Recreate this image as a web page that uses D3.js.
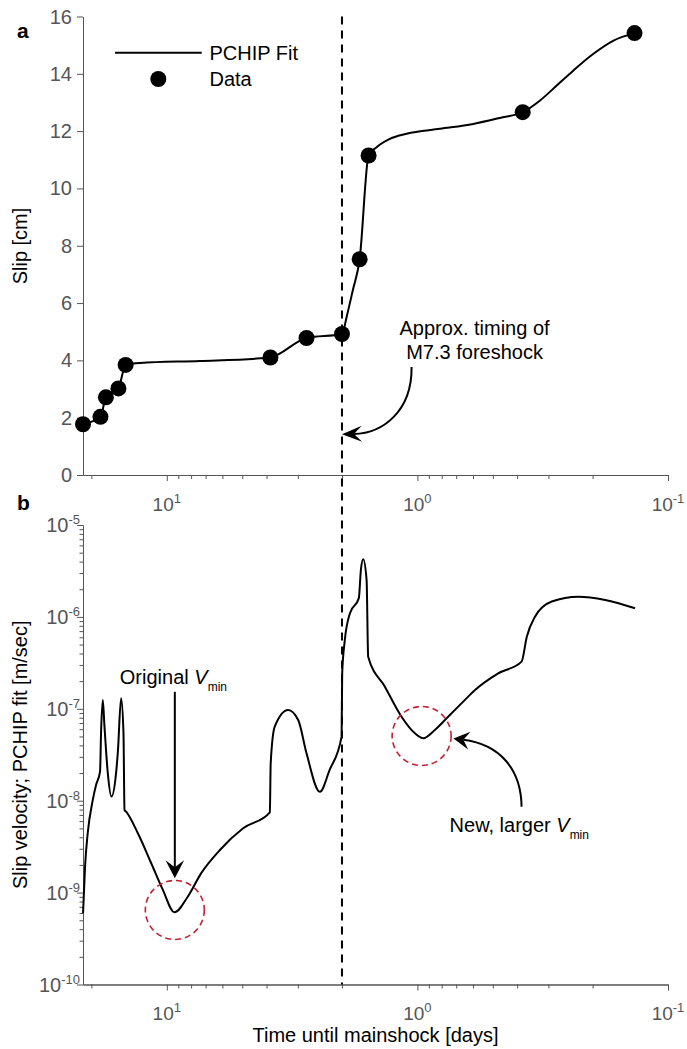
<!DOCTYPE html>
<html><head><meta charset="utf-8">
<script src="https://cdn.jsdelivr.net/npm/d3@7"></script>
<style>
body{margin:0;background:#fff}
svg{display:block}
text{font-family:"Liberation Sans",Arial,Helvetica,sans-serif}
</style>
</head><body>
<svg id="c" width="687" height="1049"></svg>
<script>
// ---------------- data ----------------
const dataTime = [21.6, 18.4, 17.5, 15.6, 14.6, 3.86, 2.77, 2.0, 1.70, 1.566, 0.380, 0.136];
const dataSlip = [1.77, 2.03, 2.71, 3.02, 3.84, 4.10, 4.78, 4.92, 7.53, 11.15, 12.66, 15.42];

const fitTime = [21.6, 18.4, 17.5, 15.6, 14.6, 12.8, 7.38, 4.25, 3.86, 2.77, 2.0, 1.91, 1.81, 1.70, 1.566,
                 1.455, 1.288, 1.104, 0.813, 0.599, 0.469, 0.380, 0.324, 0.278, 0.239, 0.199, 0.165, 0.136];
const fitSlip = [1.77, 2.03, 2.71, 3.02, 3.84, 3.91, 3.98, 4.07, 4.10, 4.78, 4.92, 5.57, 6.45, 7.53, 11.15,
                 11.44, 11.73, 11.91, 12.08, 12.25, 12.46, 12.66, 13.07, 13.59, 14.11, 14.69, 15.16, 15.42];

const velTime = [21.59, 21.2, 20.68, 19.74, 19.16, 18.47, 18.30, 18.01, 17.73, 17.20, 16.63, 15.94, 15.69,
                 15.22, 14.89, 14.75, 14.53, 13.06, 11.55, 10.37, 9.32, 8.25, 7.30, 6.14, 4.96, 3.88, 3.85,
                 3.71, 3.28, 2.99, 2.77, 2.45, 2.24, 2.007, 1.996, 1.948, 1.860, 1.713, 1.681, 1.646, 1.595,
                 1.572, 1.348, 1.157, 1.023, 0.948, 0.852, 0.754, 0.646, 0.589, 0.476, 0.384, 0.366, 0.340,
                 0.291, 0.228, 0.178, 0.1354];
const velValue = [5.95e-10, 1.91e-9, 4.45e-9, 1.02e-8, 1.48e-8, 2.07e-8, 5.46e-8, 1.25e-7, 6.39e-8, 2.00e-8,
                  1.11e-8, 2.00e-8, 3.30e-8, 1.30e-7, 5.46e-8, 7.93e-9, 7.59e-9, 4.45e-9, 2.10e-9, 1.07e-9,
                  6.11e-10, 9.02e-10, 1.62e-9, 2.91e-9, 5.01e-9, 7.48e-9, 2.55e-8, 6.39e-8, 9.70e-8, 7.55e-8,
                  3.28e-8, 1.25e-8, 2.16e-8, 4.98e-8, 2.43e-7, 5.61e-7, 1.09e-6, 1.60e-6, 3.24e-6, 4.24e-6,
                  2.52e-6, 3.69e-7, 1.74e-7, 8.20e-8, 5.41e-8, 4.78e-8, 5.88e-8, 8.20e-8, 1.25e-7, 1.60e-7,
                  2.43e-7, 3.26e-7, 6.09e-7, 1.00e-6, 1.47e-6, 1.66e-6, 1.53e-6, 1.24e-6];

const xMajor = [10, 1, 0.1];
const xMajorExp = ["1", "0", "-1"];
const xMinor = [20, 9, 8, 7, 6, 5, 4, 3, 2, 0.9, 0.8, 0.7, 0.6, 0.5, 0.4, 0.3, 0.2];
const slipTicks = [0, 2, 4, 6, 8, 10, 12, 14, 16];
const velMajor = [1e-10, 1e-9, 1e-8, 1e-7, 1e-6, 1e-5];
const velMajorExp = ["-10", "-9", "-8", "-7", "-6", "-5"];
const velMinor = [];
[1e-10, 1e-9, 1e-8, 1e-7, 1e-6].forEach(d => [2,3,4,5,6,7,8,9].forEach(k => velMinor.push(k * d)));

const foreshockTime = 2.0;
const vminOld = {t: 9.29, v: 6.47e-10};
const vminNew = {t: 0.962, v: 5.06e-8};
const arrowForeshock = {t0: 1.055, s0: 3.77, t1: 2.0, s1: 1.42};
const arrowOld = {t: 9.29, v0: 1.53e-7, v1: 1.43e-9};
const arrowNew = {t0: 0.384, v0: 8.6e-9, t1: 0.718, v1: 4.75e-8};

// ---------------- scales ----------------
const svg = d3.select('#c');
const AX = '#555';
const x = d3.scaleLog().domain([21.6, 0.1]).range([83, 668]);
const yA = d3.scaleLinear().domain([0, 16]).range([475, 16.5]);
const yB = d3.scaleLog().domain([1e-10, 1e-5]).range([984.5, 525]);

function styleAxis(g) {
  g.select('.domain').attr('stroke', AX).attr('stroke-width', 1);
  g.selectAll('.tick line').attr('stroke', AX).attr('stroke-width', 1);
}
function supLabel(sel, exp) {
  sel.append('tspan').text('10');
  sel.append('tspan').attr('font-size', 13).attr('dy', -8).text(exp);
}

// x axes
[475, 984.5].forEach(y0 => {
  const gMin = svg.append('g').attr('transform', `translate(0,${y0})`)
    .call(d3.axisBottom(x).tickValues(xMinor).tickSize(4).tickSizeOuter(0).tickFormat(''));
  styleAxis(gMin);
  const gMaj = svg.append('g').attr('transform', `translate(0,${y0})`)
    .call(d3.axisBottom(x).tickValues(xMajor).tickSize(6).tickSizeOuter(0).tickFormat(''));
  styleAxis(gMaj);
  xMajor.forEach((v, i) => {
    const t = svg.append('text').attr('x', x(v)).attr('y', y0 + 35.5)
      .attr('text-anchor', 'middle').attr('font-size', 19).attr('fill', AX);
    supLabel(t, xMajorExp[i]);
  });
});

// y axis panel a
const gA = svg.append('g').attr('transform', 'translate(83,0)')
  .call(d3.axisLeft(yA).tickValues(slipTicks).tickSize(6).tickSizeOuter(0).tickFormat(''));
styleAxis(gA);
slipTicks.forEach(v => {
  svg.append('text').attr('x', 72).attr('y', yA(v) + 7).attr('text-anchor', 'end')
    .attr('font-size', 20).attr('fill', AX).text(v);
});

// y axis panel b
const gBm = svg.append('g').attr('transform', 'translate(83,0)')
  .call(d3.axisLeft(yB).tickValues(velMinor).tickSize(3.5).tickSizeOuter(0).tickFormat(''));
styleAxis(gBm);
const gB = svg.append('g').attr('transform', 'translate(83,0)')
  .call(d3.axisLeft(yB).tickValues(velMajor).tickSize(6).tickSizeOuter(0).tickFormat(''));
styleAxis(gB);
velMajor.forEach((v, i) => {
  const t = svg.append('text').attr('x', 80).attr('y', yB(v) + 7).attr('text-anchor', 'end')
    .attr('font-size', 20).attr('fill', AX);
  supLabel(t, velMajorExp[i]);
});

// titles
svg.append('text').attr('transform', 'translate(27,246) rotate(-90)').attr('text-anchor', 'middle')
  .attr('font-size', 20).attr('fill', '#000').text('Slip [cm]');
svg.append('text').attr('transform', 'translate(27,754.75) rotate(-90)').attr('text-anchor', 'middle')
  .attr('font-size', 20).attr('fill', '#000').text('Slip velocity; PCHIP fit [m/sec]');
svg.append('text').attr('x', 375.5).attr('y', 1042).attr('text-anchor', 'middle')
  .attr('font-size', 20).attr('fill', '#000').text('Time until mainshock [days]');
svg.append('text').attr('x', 17).attr('y', 38).attr('font-size', 21).attr('font-weight', 'bold').text('a');
svg.append('text').attr('x', 17).attr('y', 510).attr('font-size', 21).attr('font-weight', 'bold').text('b');

// foreshock dashed line
svg.append('line').attr('x1', x(foreshockTime)).attr('x2', x(foreshockTime))
  .attr('y1', yA(16)).attr('y2', yB(1e-10))
  .attr('stroke', '#000').attr('stroke-width', 2).attr('stroke-dasharray', '8,6');

// panel a: fit + data
const fitPts = fitTime.map((t, i) => [t, fitSlip[i]]);
svg.append('path').datum(fitPts)
  .attr('d', d3.line().x(d => x(d[0])).y(d => yA(d[1])).curve(d3.curveMonotoneX))
  .attr('fill', 'none').attr('stroke', '#000').attr('stroke-width', 2);
svg.selectAll('circle.data').data(dataTime.map((t, i) => [t, dataSlip[i]])).enter()
  .append('circle').attr('class', 'data').attr('cx', d => x(d[0])).attr('cy', d => yA(d[1]))
  .attr('r', 8).attr('fill', '#000');

// legend
svg.append('line').attr('x1', 115).attr('x2', 201.7).attr('y1', 52.7).attr('y2', 52.7)
  .attr('stroke', '#000').attr('stroke-width', 2);
svg.append('text').attr('x', 209.5).attr('y', 60).attr('font-size', 20).text('PCHIP Fit');
svg.append('circle').attr('cx', 158.3).attr('cy', 79).attr('r', 8).attr('fill', '#000');
svg.append('text').attr('x', 209.5).attr('y', 86).attr('font-size', 20).text('Data');

// panel b: velocity
const velPts = velTime.map((t, i) => [t, velValue[i]]);
svg.append('path').datum(velPts)
  .attr('d', d3.line().x(d => x(d[0])).y(d => yB(d[1])).curve(d3.curveMonotoneX))
  .attr('fill', 'none').attr('stroke', '#000').attr('stroke-width', 2);

// red dashed circles
[vminOld, vminNew].forEach(c => {
  svg.append('circle').attr('cx', x(c.t)).attr('cy', yB(c.v)).attr('r', 29.5)
    .attr('fill', 'none').attr('stroke', '#c81e32').attr('stroke-width', 1.6)
    .attr('stroke-dasharray', '6,4');
});

// arrows
function head(tip, ang, len, half, notch) {
  const ca = Math.cos(ang), sa = Math.sin(ang);
  const pt = (u, v) => [tip[0] + u * ca - v * sa, tip[1] + u * sa + v * ca];
  const p = [pt(0, 0), pt(-len, -half), pt(-notch, 0), pt(-len, half)];
  svg.append('path').attr('d', 'M' + p.map(q => q.join(',')).join('L') + 'Z').attr('fill', '#000');
  return pt(-notch, 0);
}
function curvedArrow(s, c1, c2, tip, len, half, notch) {
  const ang = Math.atan2(tip[1] - c2[1], tip[0] - c2[0]);
  const e = head(tip, ang, len, half, notch);
  svg.append('path').attr('d', `M${s[0]},${s[1]}C${c1[0]},${c1[1]} ${c2[0]},${c2[1]} ${e[0]},${e[1]}`)
    .attr('fill', 'none').attr('stroke', '#000').attr('stroke-width', 2);
}

// foreshock annotation
{
  const s = [x(arrowForeshock.t0), yA(arrowForeshock.s0)];
  const tip = [x(arrowForeshock.t1), yA(arrowForeshock.s1)];
  curvedArrow(s, [s[0] + 0.5, s[1] + 45], [tip[0] + 40, tip[1] - 1], tip, 20, 8, 12);
  svg.append('text').attr('x', s[0] + 63).attr('y', s[1] - 32.4).attr('text-anchor', 'middle')
    .attr('font-size', 20).text('Approx. timing of');
  svg.append('text').attr('x', s[0] + 63).attr('y', s[1] - 8.4).attr('text-anchor', 'middle')
    .attr('font-size', 20).text('M7.3 foreshock');
}
// original Vmin
{
  const xs = x(arrowOld.t), y0 = yB(arrowOld.v0), y1 = yB(arrowOld.v1);
  const e = head([xs, y1], Math.PI / 2, 18, 9.3, 11);
  svg.append('line').attr('x1', xs).attr('x2', xs).attr('y1', y0).attr('y2', e[1])
    .attr('stroke', '#000').attr('stroke-width', 2);
  const t = svg.append('text').attr('x', xs - 55).attr('y', y0 - 8).attr('font-size', 20);
  t.append('tspan').text('Original ');
  t.append('tspan').attr('font-style', 'italic').text('V');
  t.append('tspan').attr('font-size', 12).attr('dy', 7).text('min');
}
// new Vmin
{
  const s = [x(arrowNew.t0), yB(arrowNew.v0)];
  const tip = [x(arrowNew.t1), yB(arrowNew.v1)];
  curvedArrow(s, [s[0] - 0.5, s[1] - 38], [s[0] - 22, tip[1] + 6], tip, 16, 9, 10);
  const t = svg.append('text').attr('x', s[0] - 72).attr('y', s[1] + 25).attr('font-size', 20);
  t.append('tspan').text('New, larger ');
  t.append('tspan').attr('font-style', 'italic').text('V');
  t.append('tspan').attr('font-size', 12).attr('dy', 7).text('min');
}
</script>
</body></html>
